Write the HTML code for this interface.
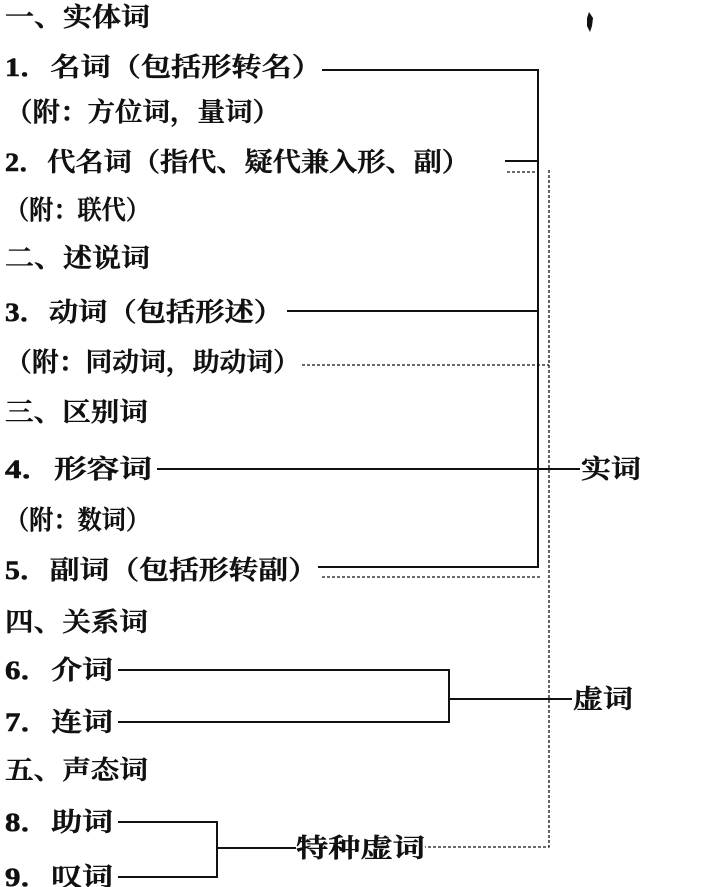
<!DOCTYPE html>
<html><head><meta charset="utf-8"><style>
html,body{margin:0;padding:0;background:#fff;}
svg{display:block}
text{font-family:"Liberation Serif","Noto Serif CJK SC",serif;font-size:26px;fill:#111;font-weight:600;stroke:#111;stroke-width:0.6}
</style></head><body>
<svg width="721" height="887" viewBox="0 0 721 887" xmlns="http://www.w3.org/2000/svg">
<g>
<text x="5" y="26" textLength="145" lengthAdjust="spacingAndGlyphs">一、实体词</text>
<text x="5" y="76" textLength="317" lengthAdjust="spacingAndGlyphs">1．名词（包括形转名）</text>
<text x="5" y="121" textLength="275" lengthAdjust="spacingAndGlyphs">（附：方位词，量词）</text>
<text x="5" y="171" textLength="465" lengthAdjust="spacingAndGlyphs">2．代名词（指代、疑代兼入形、副）</text>
<text x="5" y="219" textLength="145" lengthAdjust="spacingAndGlyphs">（附：联代）</text>
<text x="5" y="267" textLength="145" lengthAdjust="spacingAndGlyphs">二、述说词</text>
<text x="5" y="321" textLength="278" lengthAdjust="spacingAndGlyphs">3．动词（包括形述）</text>
<text x="5" y="371" textLength="295" lengthAdjust="spacingAndGlyphs">（附：同动词，助动词）</text>
<text x="5" y="421" textLength="143" lengthAdjust="spacingAndGlyphs">三、区别词</text>
<text x="5" y="478" textLength="147" lengthAdjust="spacingAndGlyphs">4．形容词</text>
<text x="5" y="529" textLength="145" lengthAdjust="spacingAndGlyphs">（附：数词）</text>
<text x="5" y="579" textLength="313" lengthAdjust="spacingAndGlyphs">5．副词（包括形转副）</text>
<text x="5" y="631" textLength="143" lengthAdjust="spacingAndGlyphs">四、关系词</text>
<text x="5" y="679" textLength="108" lengthAdjust="spacingAndGlyphs">6．介词</text>
<text x="5" y="731" textLength="108" lengthAdjust="spacingAndGlyphs">7．连词</text>
<text x="5" y="779" textLength="143" lengthAdjust="spacingAndGlyphs">五、声态词</text>
<text x="5" y="831" textLength="108" lengthAdjust="spacingAndGlyphs">8．助词</text>
<text x="5" y="886" textLength="108" lengthAdjust="spacingAndGlyphs">9．叹词</text>
<text x="581" y="478" textLength="60" lengthAdjust="spacingAndGlyphs">实词</text>
<text x="573" y="708" textLength="60" lengthAdjust="spacingAndGlyphs">虚词</text>
<text x="296" y="857" textLength="129" lengthAdjust="spacingAndGlyphs">特种虚词</text>
</g>
<g stroke="#111" stroke-width="2" fill="none">
<polyline points="322,70 538,70 538,567 318,567"/>
<line x1="505" y1="161" x2="538" y2="161"/>
<line x1="287" y1="311" x2="538" y2="311"/>
<line x1="157" y1="469" x2="580" y2="469"/>
<polyline points="118,670 449,670 449,722 118,722"/>
<line x1="449" y1="699" x2="572" y2="699"/>
<polyline points="118,822 217,822 217,877 118,877"/>
<line x1="217" y1="848" x2="296" y2="848"/>
</g>
<g stroke="#111" stroke-width="1.3" fill="none" stroke-dasharray="3,2">
<line x1="507" y1="172" x2="537" y2="172"/>
<line x1="302" y1="365" x2="549" y2="365"/>
<line x1="322" y1="577" x2="541" y2="577"/>
<polyline points="549,170 549,847 425,847"/>
</g>
<path d="M589 12 L593 18 L592 26 L590 32 L587 26 L587 18 Z" fill="#111"/>
</svg>
</body></html>
